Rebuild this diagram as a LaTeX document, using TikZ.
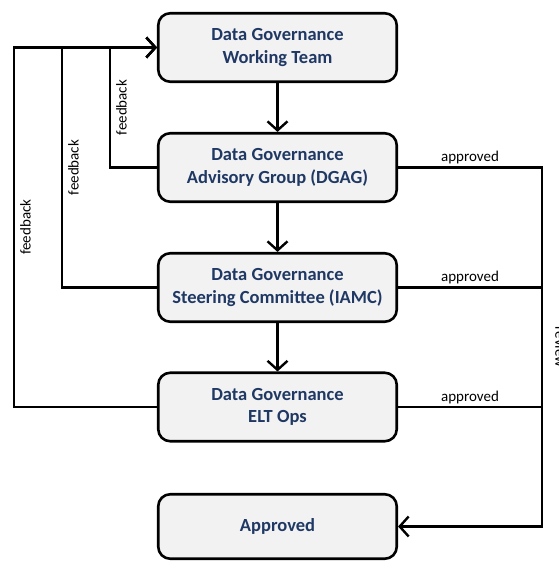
\documentclass[tikz,border=0pt]{standalone}
\usepackage{fontspec}
\setmainfont{Carlito}
\usetikzlibrary{arrows.meta}
\definecolor{navy}{HTML}{1F3864}
\definecolor{boxfill}{HTML}{F2F2F2}
\begin{document}
\begin{tikzpicture}[x=1pt,y=-1pt,
  stage/.style={draw=black, line width=2.6pt, rounded corners=12pt, fill=boxfill,
    minimum width=238.5pt, minimum height=68.5pt, align=center, inner sep=0pt,
    font=\fontsize{18.5}{22.5}\selectfont\bfseries, text=navy},
  link/.style={line width=2.4pt, -{Straight Barb[length=9pt,width=20pt,line width=2.4pt]}},
  plain/.style={line width=2.4pt},
  fblbl/.style={font=\fontsize{15}{17}\selectfont, rotate=90, anchor=north, inner xsep=0pt, inner ysep=5pt},
  aplbl/.style={font=\fontsize{15}{17}\selectfont, anchor=south, inner xsep=0pt, inner ysep=2pt},
  rvlbl/.style={font=\fontsize{15}{17}\selectfont, rotate=-90, anchor=south, inner xsep=0pt, inner ysep=12pt}]
\useasboundingbox (0,0) rectangle (558,561);
\node[stage] (wt) at (277.5,47.5) {Data Governance\\Working Team};
\node[stage] (dgag) at (277.5,167.5) {Data Governance\\Advisory Group (DGAG)};
\node[stage] (iamc) at (277.5,287.5) {Data Governance\\Steering Committee (IAMC)};
\node[stage] (elt) at (277.5,407) {Data Governance\\ELT Ops};
\node[stage, minimum height=64.5pt] (ok) at (277.5,526.5) {Approved};

\coordinate (fa) at (110,0);
\coordinate (fb) at (62,0);
\coordinate (fc) at (14,0);
\coordinate (rv) at (542,0);

\draw[link] (wt) -- (dgag);
\draw[link] (dgag) -- (iamc);
\draw[link] (iamc) -- (elt);

\draw[link] (dgag.west) -- (dgag.west -| fa) -- node[fblbl]{feedback} (wt.west -| fa) -- (wt.west);
\draw[link] (iamc.west) -- (iamc.west -| fb) -- node[fblbl]{feedback} (wt.west -| fb) -- (wt.west);
\draw[link] (elt.west) -- (elt.west -| fc) -- node[fblbl]{feedback} (wt.west -| fc) -- (wt.west);

\draw[link] (dgag.east) -- node[aplbl]{approved} (dgag.east -| rv) -- node[rvlbl]{review} (ok.east -| rv) -- (ok.east);
\draw[plain] (iamc.east) -- node[aplbl]{approved} (iamc.east -| rv);
\draw[plain] (elt.east) -- node[aplbl]{approved} (elt.east -| rv);
\end{tikzpicture}
\end{document}
